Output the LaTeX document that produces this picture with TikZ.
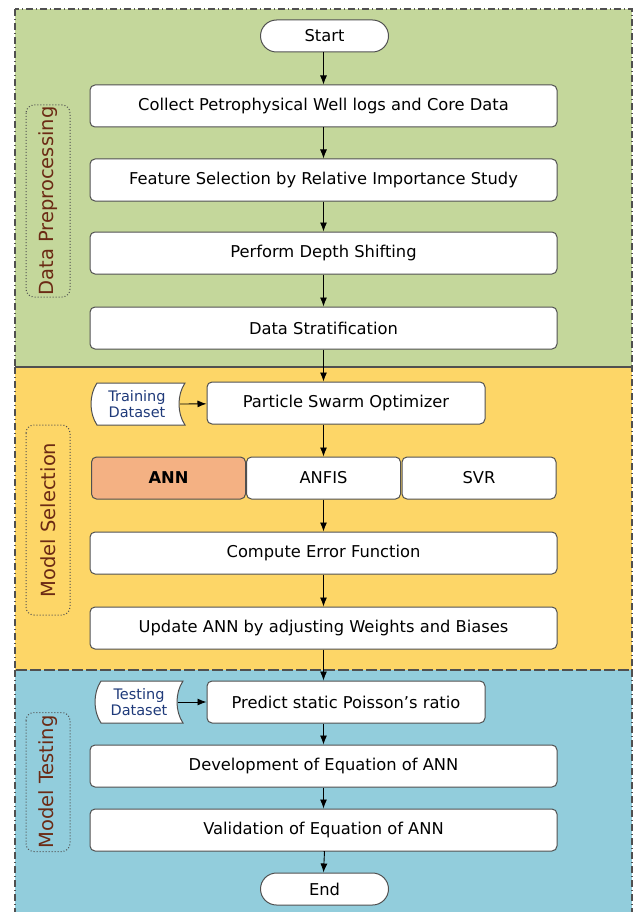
\documentclass[tikz,border=0pt]{standalone}
\usepackage{fontspec}
\setmainfont{DejaVu Sans}
\usetikzlibrary{shapes.misc,arrows.meta}
\definecolor{secgreen}{HTML}{C4D79B}
\definecolor{secyellow}{HTML}{FDD667}
\definecolor{secblue}{HTML}{92CDDC}
\definecolor{anncol}{HTML}{F4B183}
\definecolor{labcol}{HTML}{6B2A14}
\definecolor{dscol}{HTML}{1F3A7A}
\definecolor{bordcol}{HTML}{505050}
\tikzset{
  x=1pt,y=-1pt,
  section/.style={draw=bordcol,line width=1.3pt,dash pattern=on 7pt off 3pt on 1pt off 3pt},
  procbox/.style={draw=bordcol,line width=1pt,fill=white,rounded corners=5pt,minimum width=467pt,minimum height=42pt,font=\fontsize{16.3}{18}\selectfont,inner sep=0pt},
  medbox/.style={procbox,minimum width=278pt},
  modbox/.style={procbox,minimum width=154pt},
  term/.style={draw=bordcol,line width=1pt,fill=white,rounded rectangle,minimum width=128pt,minimum height=32pt,font=\fontsize{16.3}{18}\selectfont,inner sep=0pt},
  sidelab/.style={draw=bordcol,dotted,line width=1pt,rounded corners=8pt,rotate=90,minimum height=44pt,text=labcol,font=\fontsize{19.5}{22}\selectfont,inner sep=0pt},
  dstext/.style={text=dscol,font=\fontsize{14.5}{16.5}\selectfont,align=center,inner sep=0pt},
  arr/.style={-{Latex[length=9pt,width=7pt]},line width=0.9pt}
}
\begin{document}
\begin{tikzpicture}
\useasboundingbox (0,0) rectangle (635,912);
% sections
\fill[secgreen] (15,9) rectangle (632,367);
\fill[secyellow] (15,367) rectangle (632,670);
\fill[secblue] (15,670) rectangle (632,915);
\draw[section] (15,9) rectangle (632,367);
\draw[section] (15,367) rectangle (632,670);
\draw[section] (15,670) rectangle (632,918);
% side labels
\node[sidelab,minimum width=192pt] (lab1) at (48,201) {Data Preprocessing};
\node[sidelab,minimum width=190pt] (lab2) at (48,520) {Model Selection};
\node[sidelab,minimum width=139pt] (lab3) at (48,782) {Model Testing};
% nodes
\node[term] (start) at (324.5,36) {Start};
\node[procbox] (collect) at (323.5,106) {Collect Petrophysical Well logs and Core Data};
\node[procbox] (feat) at (323.5,180) {Feature Selection by Relative Importance Study};
\node[procbox] (depth) at (323.5,253) {Perform Depth Shifting};
\node[procbox] (strat) at (323.5,328) {Data Stratification};
\node[medbox] (pso) at (346,403) {Particle Swarm Optimizer};
\node[modbox,fill=anncol,font=\fontsize{16.3}{18}\selectfont\bfseries] (ann) at (168.5,478) {ANN};
\node[modbox] (anfis) at (323.5,478) {ANFIS};
\node[modbox] (svr) at (479,478) {SVR};
\node[procbox] (err) at (323.5,553) {Compute Error Function};
\node[procbox] (upd) at (323.5,628) {Update ANN by adjusting Weights and Biases};
\node[medbox] (pred) at (346,702) {Predict static Poisson’s ratio};
\node[procbox] (dev) at (323.5,766) {Development of Equation of ANN};
\node[procbox] (val) at (323.5,830) {Validation of Equation of ANN};
\node[term] (end) at (324.5,889) {End};
% dataset shapes
\draw[draw=bordcol,line width=1pt,fill=white] (97,383) -- (185,383) .. controls (177,395) and (177,413) .. (185,425) -- (97,425) .. controls (89,413) and (89,395) .. (97,383) -- cycle;
\node[dstext] (train) at (137,404) {Training\\Dataset};
\coordinate (trainR) at (180,404);
\draw[draw=bordcol,line width=1pt,fill=white] (101,681) -- (183,681) .. controls (175,693) and (175,711) .. (183,723) -- (101,723) .. controls (93,711) and (93,693) .. (101,681) -- cycle;
\node[dstext] (test) at (139,702) {Testing\\Dataset};
\coordinate (testR) at (178,702);
% arrows
\draw[arr] (start.south -| collect.north) -- (collect.north);
\draw[arr] (collect) -- (feat);
\draw[arr] (feat) -- (depth);
\draw[arr] (depth) -- (strat);
\draw[arr] (strat.south) -- (strat.south |- pso.north);
\draw[arr] (trainR) -- (pso);
\draw[arr] (strat.south |- pso.south) -- (anfis.north);
\draw[arr] (anfis) -- (err);
\draw[arr] (err) -- (upd);
\draw[arr] (upd.south) -- (upd.south |- pred.north);
\draw[arr] (testR) -- (pred);
\draw[arr] (upd.south |- pred.south) -- (dev.north);
\draw[arr] (dev) -- (val);
\draw[arr] (val.south) -- (val.south -| end.north) -- (end.north -| val.south);
\end{tikzpicture}
\end{document}
